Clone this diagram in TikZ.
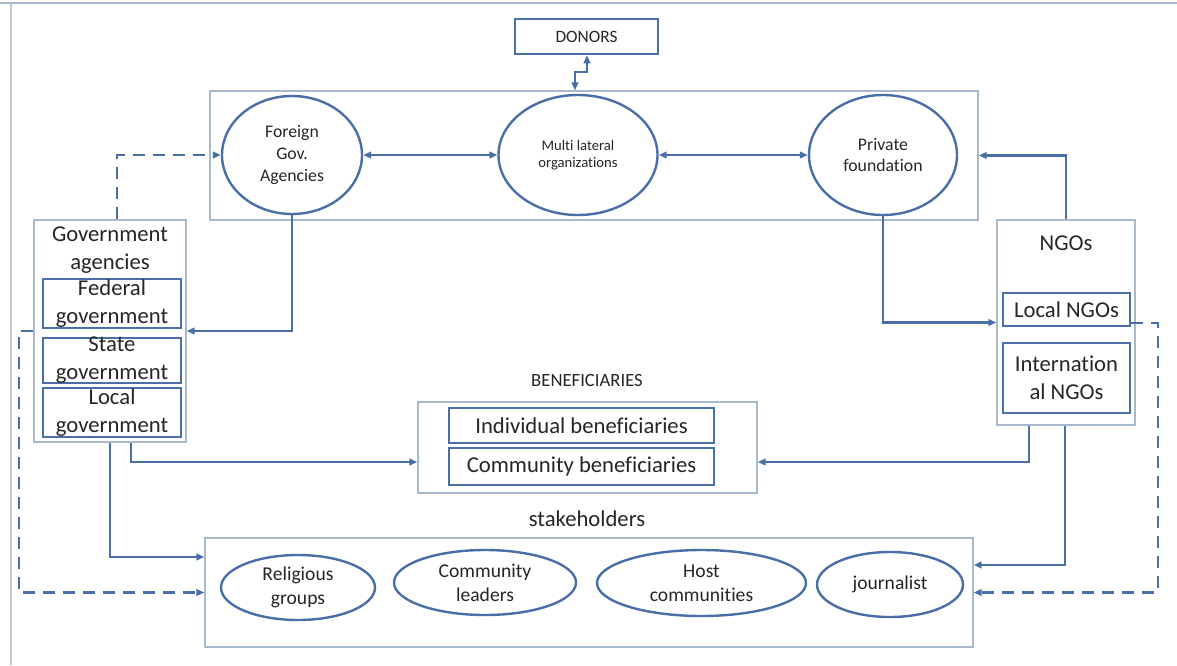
\documentclass[tikz,border=0pt]{standalone}
\usepackage{fontspec}
\setmainfont{Carlito}[Ligatures={NoCommon}]
\usetikzlibrary{arrows.meta,shapes.geometric}
\definecolor{lineblue}{HTML}{4A6EA8}
\definecolor{frameblue}{HTML}{A9B8CC}
\definecolor{inkgrey}{HTML}{262626}
\tikzset{
  tip/.tip={Triangle[length=6pt,width=5pt]},
  conn/.style={draw=lineblue, line width=1.8pt, -tip},
  conn2/.style={draw=lineblue, line width=1.8pt, tip-tip},
  dconn/.style={conn, dash pattern=on 9pt off 6pt},
  groupbox/.style={draw=frameblue, line width=1pt, rectangle, inner sep=0pt},
  subbox/.style={draw=lineblue, line width=1.9pt, rectangle, inner sep=0pt},
  oval/.style={draw=lineblue, line width=1.8pt, ellipse, inner sep=0pt, align=center, text=inkgrey},
  txt/.style={text=inkgrey, align=center, inner sep=0pt, font=\fontsize{17}{21}\selectfont},
  ovaltxt/.style={font=\fontsize{13.3}{16.3}\selectfont},
  stktxt/.style={font=\fontsize{14.7}{18}\selectfont},
}
\begin{document}
\begin{tikzpicture}[x=0.75pt,y=-0.75pt]
\useasboundingbox (0,0) rectangle (1177,665);
% page frame
\draw[frameblue, line width=0.8pt] (0,3) -- (1177,3);
\draw[frameblue!70, line width=0.8pt] (11,3) -- (11,665);

% donors
\node[subbox, minimum width=107.25pt, minimum height=26.25pt] (donors) at (586.5,36.5) {};
\node[txt, font=\fontsize{13}{16}\selectfont] at (donors.center) {DONORS};
\node[groupbox, minimum width=576pt, minimum height=96.75pt] (donorsgrp) at (594,155.5) {};
\node[oval, ovaltxt, minimum width=105pt, minimum height=88.5pt] (foreign) at (292,155) {Foreign\\Gov.\\Agencies};
\node[oval, font=\fontsize{11}{13}\selectfont, minimum width=119.25pt, minimum height=90pt] (multi) at (578,155) {Multi lateral\\organizations};
\node[oval, ovaltxt, minimum width=111pt, minimum height=90pt] (private) at (883,155) {Private\\foundation};

% government agencies
\node[groupbox, minimum width=114pt, minimum height=166.5pt] (govbox) at (110,331) {};
\node[txt] (govtitle) at (110,250) {Government\\agencies};
\node[subbox, minimum width=103.5pt, minimum height=36.75pt, label={[txt]center:Federal\\government}] (fed) at (112,303.5) {};
\node[subbox, minimum width=103.5pt, minimum height=33.75pt, label={[txt]center:State\\government}] (state) at (112,360.5) {};
\node[subbox, minimum width=103.5pt, minimum height=36.75pt, label={[txt]center:Local\\government}] (localgov) at (112,412.5) {};

% NGOs
\node[groupbox, minimum width=103.5pt, minimum height=153.75pt] (ngos) at (1066,322.5) {};
\node[txt] (ngotitle) at (1066,243) {NGOs};
\node[subbox, minimum width=95.25pt, minimum height=24.75pt, label={[txt]center:Local NGOs}] (localngo) at (1066.5,309.5) {};
\node[subbox, minimum width=95.25pt, minimum height=52.5pt, label={[txt]center:Internation\\al NGOs}] (intngo) at (1066.5,378) {};

% beneficiaries
\node[txt, font=\fontsize{14}{17}\selectfont] (beneftitle) at (587,380) {BENEFICIARIES};
\node[groupbox, minimum width=254.25pt, minimum height=68.25pt] (benefbox) at (587.5,447.5) {};
\node[subbox, minimum width=198.75pt, minimum height=26.25pt, label={[txt]center:Individual beneficiaries}] (indiv) at (581.5,425.5) {};
\node[subbox, minimum width=198.75pt, minimum height=27.75pt, label={[txt]center:Community beneficiaries}] (commb) at (581.5,466.5) {};

% stakeholders
\node[txt] (staketitle) at (587,519) {stakeholders};
\node[groupbox, minimum width=576pt, minimum height=81.75pt] (stakebox) at (589,592.5) {};
\node[oval, stktxt, minimum width=115.5pt, minimum height=48.75pt] (relig) at (298,587.5) {Religious\\groups};
\node[oval, stktxt, minimum width=136.5pt, minimum height=48.75pt] (leaders) at (485,582.5) {Community\\leaders};
\node[oval, stktxt, minimum width=156.75pt, minimum height=49.5pt] (host) at (701.5,583) {Host\\communities};
\node[oval, stktxt, minimum width=109.5pt, minimum height=48.75pt] (journ) at (890,584.5) {journalist};

% connector bends
\coordinate (dz1) at (587,72);
\coordinate (dz2) at (575,72);
\coordinate (gd) at (117,155);
\coordinate (ld) at (19,331);
\coordinate (rd) at (1158,323);
\coordinate (gb) at (131,462);
\coordinate (gs) at (110,557);
\coordinate (nb) at (1029,462);
\coordinate (ns) at (1065,565);

% connectors
\draw[conn2] (dz1 |- donors.south) -- (dz1) -- (dz2) -- (dz2 |- donorsgrp.north);
\draw[conn2] (foreign.east) -- (multi.west);
\draw[conn2] (multi.east) -- (private.west);
\draw[conn] (foreign.south) |- (govbox.east);
\draw[dconn] (govbox.north -| gd) -- (gd) -- (foreign.west);
\draw[conn] (private.south) |- (ngos.west);
\draw[conn] (ngos.north) |- (donorsgrp.east);
\draw[dconn] (localngo.east |- rd) -- (rd) |- (stakebox.east);
\draw[dconn] (govbox.west) -- (ld) |- (stakebox.west);
\draw[conn] (govbox.south -| gb) -- (gb) -- (benefbox.west |- gb);
\draw[conn] (govbox.south -| gs) |- (stakebox.west |- gs);
\draw[conn] (ngos.south -| nb) -- (nb) -- (benefbox.east |- nb);
\draw[conn] (ngos.south -| ns) |- (stakebox.east |- ns);
\end{tikzpicture}
\end{document}
